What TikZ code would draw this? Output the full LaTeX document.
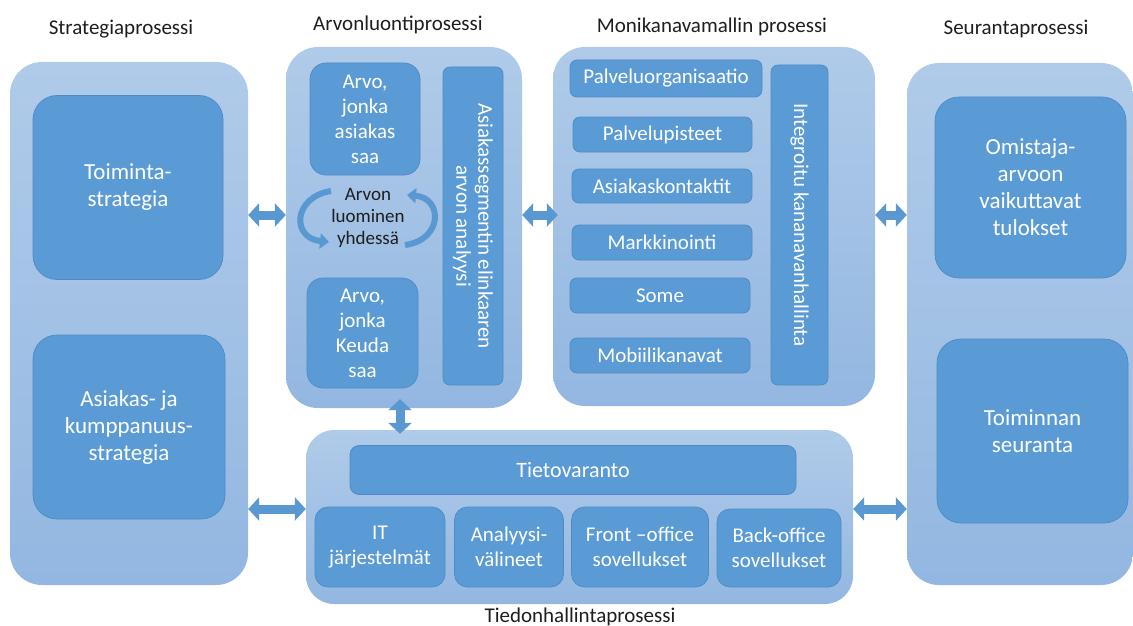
\documentclass[tikz,border=0pt]{standalone}
\usepackage{fontspec}
\setmainfont{Carlito}
\usetikzlibrary{arrows.meta,calc}

\definecolor{innerblue}{HTML}{5B9BD5}
\definecolor{innerline}{HTML}{4D8AC6}
\definecolor{outertop}{HTML}{B0CBE9}
\definecolor{outerbot}{HTML}{93B7E1}
\definecolor{arrowblue}{HTML}{5A98D2}
\definecolor{titlegray}{HTML}{1E1E1E}

\begin{document}
\begin{tikzpicture}[x=1pt,y=-1pt,
  outer/.style={rounded corners=32pt, top color=outertop, bottom color=outerbot,
    draw=none, inner sep=0pt},
  bigbox/.style={rounded corners=24pt, fill=innerblue, draw=innerline, line width=0.7pt,
    text=white, align=center, inner sep=0pt,
    font=\fontsize{23}{27}\selectfont},
  midbox/.style={rounded corners=16pt, fill=innerblue, draw=innerline, line width=0.7pt,
    text=white, align=center, inner sep=0pt,
    font=\fontsize{21}{25}\selectfont},
  barbox/.style={rounded corners=7pt, fill=innerblue, draw=innerline, line width=0.7pt,
    text=white, align=center, inner sep=0pt,
    font=\fontsize{21}{22}\selectfont},
  title/.style={text=titlegray, font=\fontsize{21}{24}\selectfont, inner sep=0pt},
  dblarrow/.style={draw=arrowblue, line width=9pt,
    {Triangle[length=11pt,width=23pt]}-{Triangle[length=11pt,width=23pt]}},
  swirl/.style={draw=arrowblue, line width=6pt,
    -{Triangle[length=9pt,width=15pt]}},
]
\useasboundingbox (0,0) rectangle (1133,626);

% process titles
\node[title] (t1) at (121,29) {Strategiaprosessi};
\node[title] (t2) at (398,25) {Arvonluontiprosessi};
\node[title] (t3) at (712,27) {Monikanavamallin prosessi};
\node[title] (t4) at (1016,29) {Seurantaprosessi};
\node[title] (t5) at (580,617) {Tiedonhallintaprosessi};

% strategy process
\node[outer, minimum width=238pt, minimum height=523pt] (strat) at (129,323.5) {};
\node[bigbox, minimum width=190pt, minimum height=184pt] (toim) at (128,187.5) {Toiminta-\\strategia};
\node[bigbox, minimum width=192pt, minimum height=184pt] (asiak) at (129,427) {Asiakas- ja\\kumppanuus-\\strategia};

% value creation process
\node[outer, minimum width=236pt, minimum height=361pt] (arvo) at (404,227.5) {};
\node[midbox, minimum width=110pt, minimum height=112pt] (arvoA) at (365,119) {Arvo,\\jonka\\asiakas\\saa};
\node[midbox, minimum width=111pt, minimum height=110pt] (arvoK) at (362.5,333) {Arvo,\\jonka\\Keuda\\saa};
\node[barbox, rotate=-90, minimum width=318pt, minimum height=60pt] (seg) at (473,226)
  {Asiakassegmentin elinkaaren\\arvon analyysi};
\node[text=titlegray, align=center, inner sep=0pt, font=\fontsize{19}{22}\selectfont]
  (luo) at (368,218) {Arvon\\luominen\\yhdessä};
\draw[swirl] (331,191) .. controls (293,197) and (291,238) .. (329,242);
\draw[swirl] (405,245) .. controls (443,240) and (443,198) .. (407,195);

% multichannel process
\node[outer, minimum width=322pt, minimum height=359pt] (moni) at (714,226.5) {};
\node[barbox, minimum width=192pt, minimum height=37pt] (p1) at (666,78.5) {Palveluorganisaatio};
\node[barbox, minimum width=179pt, minimum height=35pt] (p2) at (662.5,134.5) {Palvelupisteet};
\node[barbox, minimum width=180pt, minimum height=34pt] (p3) at (662,186) {Asiakaskontaktit};
\node[barbox, minimum width=180pt, minimum height=35pt] (p4) at (662,242.5) {Markkinointi};
\node[barbox, minimum width=180pt, minimum height=35pt] (p5) at (660,295.5) {Some};
\node[barbox, minimum width=180pt, minimum height=35pt] (p6) at (660,355.5) {Mobiilikanavat};
\node[barbox, rotate=-90, minimum width=320pt, minimum height=57pt] (integ) at (799.5,225)
  {Integroitu kananavanhallinta};

% monitoring process
\node[outer, minimum width=226pt, minimum height=522pt] (seur) at (1020,324) {};
\node[bigbox, minimum width=191pt, minimum height=181pt] (omis) at (1030.5,187.5)
  {Omistaja-\\arvoon\\vaikuttavat\\tulokset};
\node[bigbox, minimum width=191pt, minimum height=184pt] (tseur) at (1032.5,431)
  {Toiminnan\\seuranta};

% information management process
\node[outer, rounded corners=28pt, minimum width=547pt, minimum height=174pt] (tied) at (579.5,517) {};
\node[barbox, rounded corners=9pt, font=\fontsize{22}{26}\selectfont,
  minimum width=446pt, minimum height=49pt] (tiet) at (573,470) {Tietovaranto};
\node[midbox, rounded corners=13pt, minimum width=130pt, minimum height=80pt] (it) at (380,547) {IT\\järjestelmät};
\node[midbox, rounded corners=13pt, minimum width=109pt, minimum height=80pt] (ana) at (509,547) {Analyysi-\\välineet};
\node[midbox, rounded corners=13pt, minimum width=137pt, minimum height=80pt] (front) at (640,547) {Front –office\\sovellukset};
\node[midbox, rounded corners=13pt, minimum width=124pt, minimum height=78pt] (back) at (779,548) {Back-office\\sovellukset};

% connectors between processes
\coordinate (row) at (0,215);
\coordinate (low) at (0,509);
\draw[dblarrow] (strat.east |- row) -- (arvo.west |- row);
\draw[dblarrow, shorten >=-5pt] (arvo.east |- row) -- (moni.west |- row);
\draw[dblarrow] (moni.east |- row) -- (seur.west |- row);
\draw[dblarrow, shorten <=-9pt, shorten >=-4pt] ([xshift=-4pt]arvo.south) -- ([xshift=-4pt]arvo.south |- tied.north);
\draw[dblarrow] (strat.east |- low) -- (tied.west |- low);
\draw[dblarrow] (tied.east |- low) -- (seur.west |- low);
\end{tikzpicture}
\end{document}
